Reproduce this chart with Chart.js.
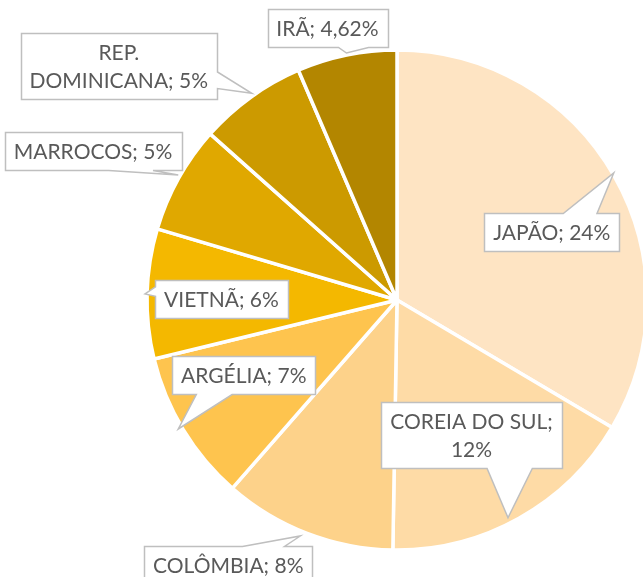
<!DOCTYPE html>
<html>
<head>
<meta charset="utf-8">
<script src="https://cdn.jsdelivr.net/npm/chart.js@4.4.1/dist/chart.umd.min.js"></script>
<style>
  html, body { margin: 0; padding: 0; background: #fff; overflow: hidden; }
  #wrap { position: relative; width: 700px; height: 577px; }
</style>
</head>
<body>
<div id="wrap"><canvas id="c"></canvas></div>
<script>
// ---- data ----
const categories = ['JAPÃO', 'COREIA DO SUL', 'COLÔMBIA', 'ARGÉLIA', 'VIETNÃ', 'MARROCOS', 'REP. DOMINICANA', 'IRÃ'];
const shares = [24, 12, 8, 7, 6, 5, 5, 4.62];

// ---- styles ----
const sliceColors = ['#FEE4C3', '#FEDBA6', '#FDD28A', '#FEC44E', '#F4B800', '#E0A800', '#CC9A00', '#B38600'];

// ---- callout layout (in units of the pie radius, relative to the pie centre) ----
const calloutCenter = [[0.619, -0.274], [0.298, 0.538], [-0.675, 1.058], [-0.613, 0.300],
                       [-0.702, -0.006], [-1.216, -0.595], [-1.113, -0.9375], [-0.278, -1.089]];
const calloutTip = [[0.867, -0.508], [0.444, 0.871], [-0.387, 0.944], [-0.875, 0.516],
                    [-1.008, -0.024], [-0.875, -0.5], [-0.581, -0.827], [-0.202, -0.988]];
const calloutWrap = [null, 180, null, null, null, null, 182, null];

const FONT_SIZE = 21;
const FONT = FONT_SIZE + 'px Lato, "Open Sans", sans-serif';
const PAD_X = 9, PAD_Y = 5, LINE_H = 28;

function fmtPct(v) { return v.toLocaleString('pt-BR') + '%'; }

function wrapText(ctx, text, maxW) {
  if (!maxW) return [text];
  const words = text.split(' ');
  const lines = [];
  let cur = '';
  for (const w of words) {
    const test = cur ? cur + ' ' + w : w;
    if (cur && ctx.measureText(test).width > maxW) { lines.push(cur); cur = w; }
    else cur = test;
  }
  if (cur) lines.push(cur);
  return lines;
}

const calloutPlugin = {
  id: 'callouts',
  afterDatasetsDraw(chart) {
    const ctx = chart.ctx;
    const meta = chart.getDatasetMeta(0);
    ctx.save();
    ctx.font = FONT;
    meta.data.forEach((arc, i) => {
      const R = arc.outerRadius;
      const cx = arc.x + calloutCenter[i][0] * R;
      const cy = arc.y + calloutCenter[i][1] * R;
      const tx = arc.x + calloutTip[i][0] * R;
      const ty = arc.y + calloutTip[i][1] * R;
      const text = categories[i] + '; ' + fmtPct(shares[i]);
      const lines = wrapText(ctx, text, calloutWrap[i]);
      const tw = Math.max(...lines.map(l => ctx.measureText(l).width));
      const w = Math.round(tw + 2 * PAD_X);
      const h = lines.length * LINE_H + 2 * PAD_Y;
      const x0 = Math.round(cx - w / 2) + 0.5, y0 = Math.round(cy - h / 2) + 0.5;
      const x1 = x0 + w, y1 = y0 + h;
      const ndx = (tx - cx) / (w / 2), ndy = (ty - cy) / (h / 2);
      let edge;
      if (Math.abs(ndy) >= Math.abs(ndx)) edge = ndy > 0 ? 'bottom' : 'top';
      else edge = ndx > 0 ? 'right' : 'left';
      const fx = (tx > cx) ? [7 / 12, 10 / 12] : [2 / 12, 5 / 12];
      const fy = (ty > cy) ? [7 / 12, 10 / 12] : [2 / 12, 5 / 12];
      ctx.beginPath();
      ctx.moveTo(x0, y0);
      if (edge === 'top') {
        ctx.lineTo(x0 + w * fx[0], y0); ctx.lineTo(tx, ty); ctx.lineTo(x0 + w * fx[1], y0);
      }
      ctx.lineTo(x1, y0);
      if (edge === 'right') {
        ctx.lineTo(x1, y0 + h * fy[0]); ctx.lineTo(tx, ty); ctx.lineTo(x1, y0 + h * fy[1]);
      }
      ctx.lineTo(x1, y1);
      if (edge === 'bottom') {
        ctx.lineTo(x0 + w * fx[1], y1); ctx.lineTo(tx, ty); ctx.lineTo(x0 + w * fx[0], y1);
      }
      ctx.lineTo(x0, y1);
      if (edge === 'left') {
        ctx.lineTo(x0, y0 + h * fy[1]); ctx.lineTo(tx, ty); ctx.lineTo(x0, y0 + h * fy[0]);
      }
      ctx.closePath();
      ctx.fillStyle = '#FFFFFF';
      ctx.fill();
      ctx.lineWidth = 1.5;
      ctx.strokeStyle = '#BFBFBF';
      ctx.lineJoin = 'miter';
      ctx.stroke();
      ctx.fillStyle = '#595959';
      ctx.textAlign = 'center';
      ctx.textBaseline = 'middle';
      lines.forEach((l, k) => {
        ctx.fillText(l, cx, y0 + PAD_Y + LINE_H * (k + 0.5) + 1);
      });
    });
    ctx.restore();
  }
};

new Chart(document.getElementById('c'), {
  type: 'pie',
  data: {
    labels: categories,
    datasets: [{
      data: shares,
      backgroundColor: sliceColors,
      borderColor: '#FFFFFF',
      borderWidth: 3.5,
      hoverOffset: 0
    }]
  },
  options: {
    responsive: true,
    maintainAspectRatio: false,
    animation: false,
    radius: 250,
    layout: { padding: { left: 147, top: 50, right: 53, bottom: 27 } },
    plugins: { legend: { display: false }, tooltip: { enabled: false } },
    events: []
  },
  plugins: [calloutPlugin]
});
</script>
</body>
</html>
